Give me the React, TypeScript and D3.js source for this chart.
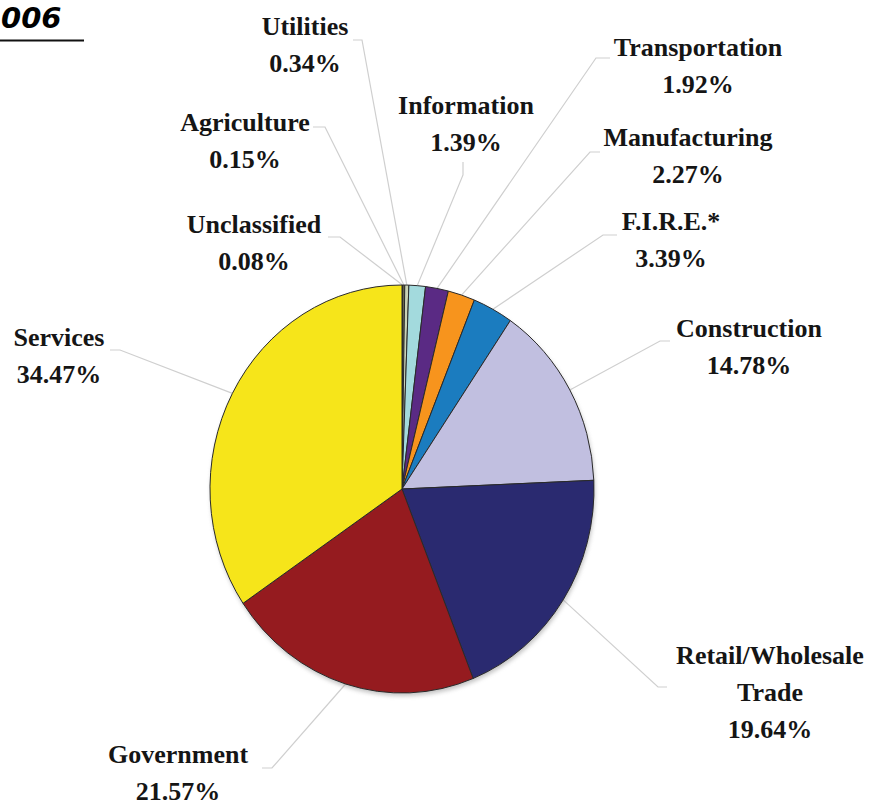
import React from "react";
import * as d3 from "d3";

const categories = [
  "Unclassified",
  "Agriculture",
  "Utilities",
  "Information",
  "Transportation",
  "Manufacturing",
  "F.I.R.E.*",
  "Construction",
  "Retail/Wholesale Trade",
  "Government",
  "Services",
];
const shares = [0.08, 0.15, 0.34, 1.39, 1.92, 2.27, 3.39, 14.78, 19.64, 21.57, 34.47];
const colors = [
  "#6a1624",
  "#8c8a5a",
  "#c9d2b4",
  "#a3dadd",
  "#5a2a84",
  "#f7941d",
  "#1b7cbf",
  "#c1bfe0",
  "#2a2a70",
  "#951b1f",
  "#f6e51a",
];
const labelLines = [
  ["Unclassified"],
  ["Agriculture"],
  ["Utilities"],
  ["Information"],
  ["Transportation"],
  ["Manufacturing"],
  ["F.I.R.E.*"],
  ["Construction"],
  ["Retail/Wholesale", "Trade"],
  ["Government"],
  ["Services"],
];

// label layout: centre x, first baseline, leader anchor points (label side)
const labelLayout = [
  { x: 254, y: 233, lead: [[328, 237], [340, 237]] },
  { x: 245, y: 131, lead: [[313, 127], [325, 127]] },
  { x: 305, y: 35, lead: [[353, 40], [362, 40]] },
  { x: 466, y: 114, lead: [[463, 162], [463, 175]] },
  { x: 698, y: 56, lead: [[610, 58], [596, 58]] },
  { x: 688, y: 146, lead: [[600, 152], [590, 152]] },
  { x: 671, y: 230, lead: [[617, 235], [603, 235]] },
  { x: 749, y: 337, lead: [[670, 341], [660, 341]] },
  { x: 770, y: 664, lead: [[667, 687], [658, 687]] },
  { x: 178, y: 763, lead: [[262, 768], [272, 768]] },
  { x: 59, y: 346, lead: [[110, 350], [120, 350]] },
];

const W = 882;
const H = 806;
const cx = 402;
const cy = 489;
const rx = 192;
const ry = 204;
const lineH = 37;

export default function App() {
  const pie = d3.pie<number>().sort(null).value((d) => d)(shares);
  const arc = d3.arc<d3.PieArcDatum<number>>().innerRadius(0).outerRadius(rx);
  const sy = ry / rx;
  const edgePoint = (a: d3.PieArcDatum<number>) => {
    const m = (a.startAngle + a.endAngle) / 2;
    return [cx + rx * Math.sin(m), cy - ry * Math.cos(m)];
  };
  const font = "'Liberation Serif', 'Times New Roman', serif";
  return (
    <svg
      width={W}
      height={H}
      style={{ position: "absolute", left: 0, top: 0, background: "#fff" }}
    >
      <defs>
        <filter id="sh" x="-10%" y="-10%" width="120%" height="120%">
          <feGaussianBlur stdDeviation="2" />
        </filter>
      </defs>
      <text
        x={1}
        y={28}
        fontFamily="'DejaVu Sans', Verdana, sans-serif"
        fontWeight="bold"
        fontStyle="italic"
        fontSize={29}
        fill="#000"
      >
        006
      </text>
      <line x1={0} x2={84} y1={40.5} y2={40.5} stroke="#111" strokeWidth={2} />

      {/* leader lines */}
      {pie.map((a, i) => {
        const [ex, ey] = edgePoint(a);
        const pts = [...labelLayout[i].lead, [ex, ey]];
        return (
          <polyline
            key={"l" + i}
            points={pts.map((p) => p.join(",")).join(" ")}
            fill="none"
            stroke="#cfcfcf"
            strokeWidth={1.2}
          />
        );
      })}

      {/* shadow */}
      <ellipse cx={cx + 1} cy={cy + 3} rx={rx} ry={ry} fill="#888" opacity={0.5} filter="url(#sh)" />

      <g transform={`translate(${cx},${cy}) scale(1,${sy})`}>
        {pie.map((a, i) => (
          <path
            key={"s" + i}
            d={arc(a) || ""}
            fill={colors[i]}
            stroke="#2a2a2a"
            strokeWidth={1}
            vectorEffect="non-scaling-stroke"
          />
        ))}
      </g>

      {/* labels */}
      {categories.map((c, i) => {
        const L = labelLayout[i];
        const lines = [...labelLines[i], shares[i].toFixed(2) + "%"];
        return (
          <text
            key={"t" + c}
            textAnchor="middle"
            fontFamily={font}
            fontWeight="bold"
            fontSize={26}
            fill="#151515"
          >
            {lines.map((ln, j) => (
              <tspan key={j} x={L.x} y={L.y + j * lineH}>
                {ln}
              </tspan>
            ))}
          </text>
        );
      })}
    </svg>
  );
}
